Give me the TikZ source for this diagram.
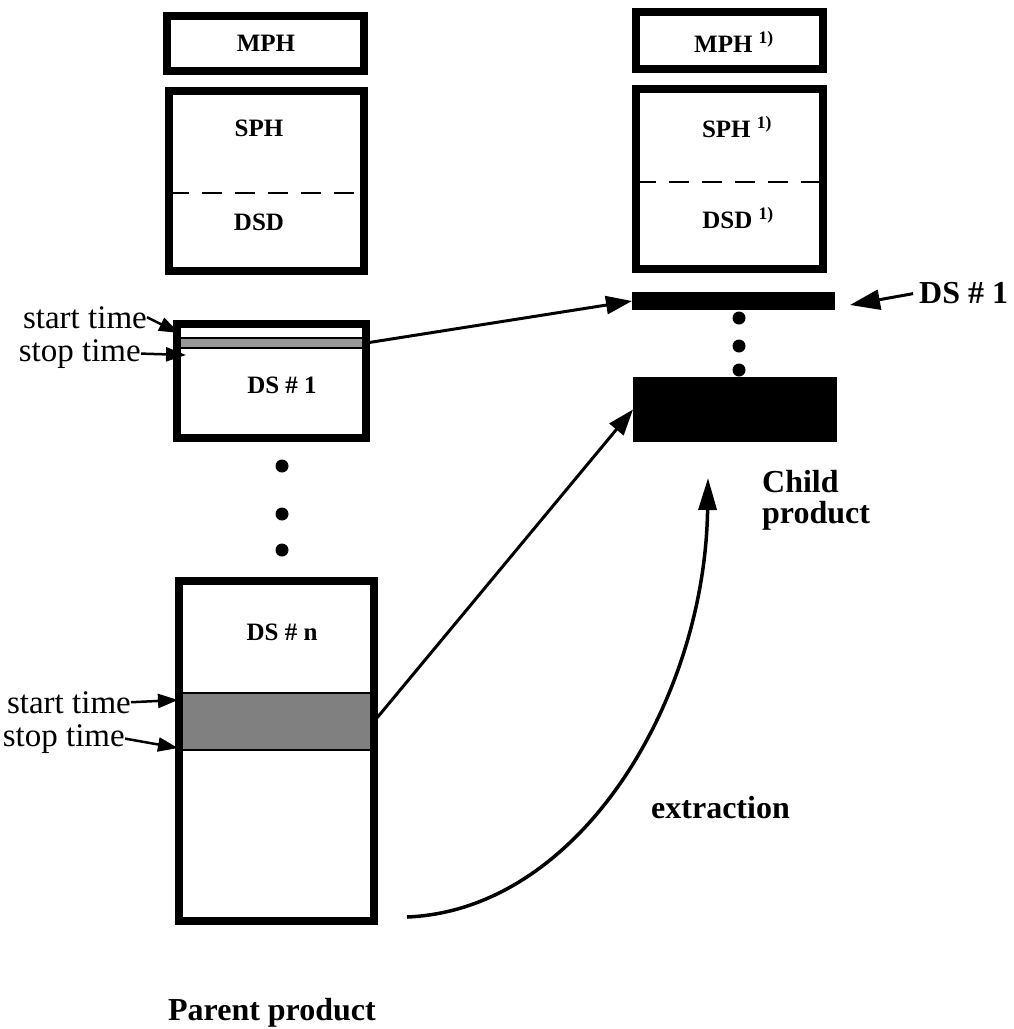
\documentclass[tikz,border=0pt]{standalone}
\usepackage{fontspec}
\setmainfont{Liberation Serif}
\usetikzlibrary{arrows.meta}
\begin{document}
\begin{tikzpicture}[x=1pt,y=-1pt,
  frame/.style={draw, line width=8pt, inner sep=0pt, outer sep=0pt},
  blk/.style={fill=black, inner sep=0pt, outer sep=0pt},
  band/.style={fill=black!50, draw=black, line width=1.5pt, inner sep=0pt, outer sep=0pt},
  lbl/.style={font=\bfseries\fontsize{25}{28}\selectfont, inner sep=0pt},
  tlbl/.style={font=\fontsize{33}{36}\selectfont, inner sep=0pt},
  big/.style={font=\bfseries\fontsize{32}{31}\selectfont, inner sep=0pt},
  dot/.style={circle, fill=black, minimum size=13pt, inner sep=0pt},
  sep/.style={dash pattern=on 20pt off 13pt, line width=2.5pt},
  arr/.style={line width=3pt, -{Triangle[length=26pt,width=18pt]}},
  sarr/.style={line width=2.5pt, -{Triangle[length=20pt,width=14pt]}},
]
\useasboundingbox (0,0) rectangle (1013,1029);

% parent product
\node[frame, minimum width=197pt, minimum height=55pt] (mph1) at (265.5,43.5) {};
\node[frame, minimum width=195pt, minimum height=180pt] (hdr1) at (266.5,181) {};
\draw[sep] (hdr1.west |- 0,193) -- (hdr1.east |- 0,193);
\node[lbl] (mph1t) at (266,43) {MPH};
\node[lbl] (sph1t) at (259,128) {SPH};
\node[lbl] (dsd1t) at (259,222) {DSD};

\node[band, fill=black!40, minimum width=189pt, minimum height=10pt] (band1) at (271.5,343) {};
\node[frame, minimum width=189pt, minimum height=114pt] (ds1) at (271.5,381) {};
\node[lbl] (ds1t) at (282,385) {DS \# 1};

\node[dot] (d1) at (282,466) {};
\node[dot] (d2) at (282,514) {};
\node[dot] (d3) at (282,550) {};

\node[band, minimum width=195pt, minimum height=57pt] (bandn) at (276.5,721.5) {};
\node[frame, minimum width=195pt, minimum height=340pt] (dsn) at (276.5,751) {};
\node[lbl] (dsnt) at (282,632) {DS \# n};

\node[tlbl, anchor=base east] (st1) at (147,328) {start time};
\node[tlbl, anchor=base east] (sp1) at (141,361) {stop time};
\node[tlbl, anchor=base east] (st2) at (131,713) {start time};
\node[tlbl, anchor=base east] (sp2) at (125,746) {stop time};
\coordinate (st1e) at (179,333);
\coordinate (sp1e) at (186,355);
\coordinate (st2e) at (178,700);
\coordinate (sp2e) at (178,748);
\draw[sarr] (st1.east) -- (st1e);
\draw[sarr] (sp1.east) -- (sp1e);
\draw[sarr] (st2.east) -- (st2e);
\draw[sarr] (sp2.east) -- (sp2e);

\node[big, anchor=base] (parent) at (272,1020) {Parent product};

% child product
\node[frame, minimum width=187pt, minimum height=57pt] (mph2) at (729.5,40.5) {};
\node[frame, minimum width=187pt, minimum height=180pt] (hdr2) at (729.5,179) {};
\draw[sep] (hdr2.west |- 0,182) -- (hdr2.east |- 0,182);
\node[lbl] (mph2t) at (734,42) {MPH \textsuperscript{1)}};
\node[lbl] (sph2t) at (737,127) {SPH \textsuperscript{1)}};
\node[lbl] (dsd2t) at (738,218) {DSD \textsuperscript{1)}};

\node[blk, minimum width=203pt, minimum height=18pt] (bar) at (733.5,301) {};
\node[dot] (e1) at (739,318) {};
\node[dot] (e2) at (739,346) {};
\node[dot] (e3) at (739,370) {};
\node[blk, minimum width=204pt, minimum height=65pt] (child) at (735,409.5) {};

\node[big, anchor=base west] (dslbl) at (919,303) {DS \# 1};
\coordinate (dslble) at (850,305);
\draw[line width=3pt, shorten <=6pt, -{Triangle[length=30pt,width=20pt]}] (dslbl.west) -- (dslble);

\node[big, align=left, anchor=north west] (childlbl) at (762,470) {Child\\product};

% connectors
\draw[arr] (band1.east) -- (bar.west);
\draw[arr] (bandn.east) -- (child.west);
\coordinate (cs) at (407,917);
\coordinate (ce) at (708,478);
\draw[line width=3.5pt, -{Triangle[length=32pt,width=18pt]}] (cs) .. controls (580,910) and (705,700) .. (ce);
\node[big, anchor=base west] (extr) at (651,818) {extraction};
\end{tikzpicture}
\end{document}
